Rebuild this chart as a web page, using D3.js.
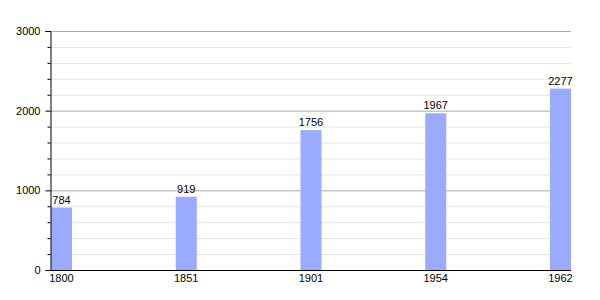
<!DOCTYPE html>
<html><head><meta charset="utf-8">
<script src="https://cdn.jsdelivr.net/npm/d3@7"></script>
<style>body{margin:0;background:#fff}svg{display:block}text{font-family:"Liberation Sans",Arial,sans-serif;font-size:11px;fill:#000}</style>
</head><body><svg id="c" width="600" height="300"></svg>
<script>
const years = ["1800","1851","1901","1954","1962"];
const population = [784, 919, 1756, 1967, 2277];
const majorTicks = [0, 1000, 2000, 3000];
const minorTicks = [200,400,600,800,1200,1400,1600,1800,2200,2400,2600,2800];

const svg = d3.select("#c");
const mLeft = 50, mRight = 571, mTop = 31, mBottom = 270;
const y = d3.scaleLinear().domain([0, 3000]).range([mBottom, mTop]);
const bw = 21;
const xs = d3.scalePoint().domain(years).range([mLeft + 1, mRight - bw]);

// minor gridlines
svg.append("g").selectAll("line").data(minorTicks).join("line")
  .attr("x1", mLeft).attr("x2", mRight).attr("y1", d => y(d) + 0.5).attr("y2", d => y(d) + 0.5)
  .attr("stroke", "#e4e4e4").attr("stroke-width", 1);
// major gridlines
svg.append("g").selectAll("line").data(majorTicks.filter(d => d > 0)).join("line")
  .attr("x1", mLeft).attr("x2", mRight).attr("y1", d => y(d) + 0.5).attr("y2", d => y(d) + 0.5)
  .attr("stroke", "#aaaaaa").attr("stroke-width", 1);

// bars
svg.append("g").selectAll("rect").data(population).join("rect")
  .attr("x", (d, i) => xs(years[i]))
  .attr("width", bw)
  .attr("y", d => y(d))
  .attr("height", d => mBottom - y(d))
  .attr("fill", "#99aaff");

// value labels
svg.append("g").selectAll("text").data(population).join("text")
  .attr("x", (d, i) => xs(years[i]) + bw / 2)
  .attr("y", d => y(d) - 4)
  .attr("text-anchor", "middle")
  .text(d => d);

// y axis
const yAxis = d3.axisLeft(y).tickValues(majorTicks).tickSize(5).tickPadding(5).tickFormat(d3.format("d"));
const gy = svg.append("g").attr("transform", `translate(${mLeft + 0.5},0)`).call(yAxis);
gy.select(".domain").attr("stroke", "#000");
gy.selectAll(".tick text").attr("font-size", 11).attr("font-family", '"Liberation Sans",Arial,sans-serif').attr("fill", "#000");
const yMinor = d3.axisLeft(y).tickValues(minorTicks).tickSize(3).tickFormat("");
const gym = svg.append("g").attr("transform", `translate(${mLeft + 0.5},0)`).call(yMinor);
gym.select(".domain").remove();

// x axis line
svg.append("line").attr("x1", mLeft).attr("x2", mRight).attr("y1", mBottom + 0.5).attr("y2", mBottom + 0.5).attr("stroke", "#000");

// x labels
svg.append("g").selectAll("text").data(years).join("text")
  .attr("x", d => xs(d) + bw / 2)
  .attr("y", mBottom + 12)
  .attr("text-anchor", "middle")
  .text(d => d);
</script></body></html>
